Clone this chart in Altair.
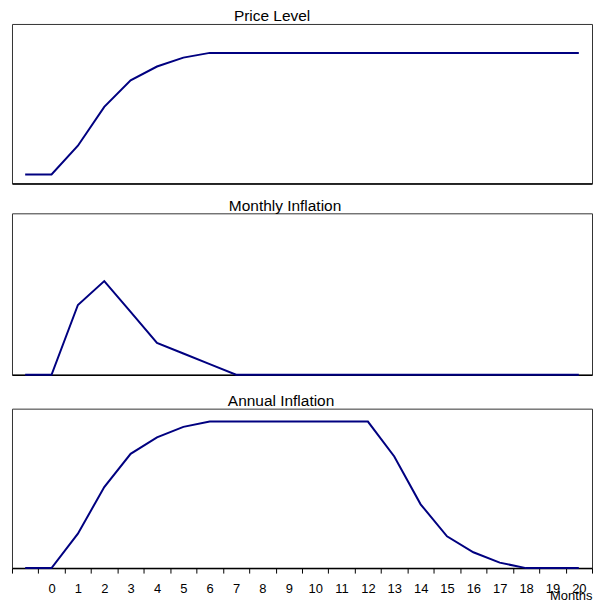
import altair as alt
import pandas as pd

# Month index (-1 is the unlabelled month before the shock)
months = list(range(-1, 21))

# Price level (index)
price_level = [100, 100, 102.36, 105.56, 107.74, 108.88, 109.61,
               110, 110, 110, 110, 110, 110, 110, 110, 110, 110, 110, 110, 110, 110, 110]

# Monthly inflation (%)
monthly_inflation = [0, 0, 2.16, 2.9, 1.95, 0.99, 0.66, 0.33,
                     0, 0, 0, 0, 0, 0, 0, 0, 0, 0, 0, 0, 0, 0]

# Annual inflation (%)
annual_inflation = [0, 0, 2.59, 6.1, 8.6, 9.84, 10.63,
                    11.03, 11.03, 11.03, 11.03, 11.03, 11.03, 11.03,
                    8.4, 4.8, 2.39, 1.19, 0.41, 0, 0, 0]

df = pd.DataFrame({
    "month": months,
    "price": price_level,
    "monthly": monthly_inflation,
    "annual": annual_inflation,
})

W = 582
LINE = "#000080"
FONT = "Liberation Sans"

xscale = alt.Scale(domain=[months[0] - 0.5, months[-1] + 0.5], nice=False, zero=False)
tick_values = sorted(set([m - 0.5 for m in months] + months + [months[-1] + 0.5]))


def title(text, dx):
    return alt.TitleParams(text, font=FONT, fontSize=15.5, fontWeight="normal",
                           color="black", anchor="middle", dx=dx, offset=-1,
                           baseline="top")


plain_axis = dict(title=None, labels=False, grid=False, domainColor="black",
                  domainWidth=1.5)

top = alt.Chart(df).mark_line(color=LINE, strokeWidth=2).encode(
    x=alt.X("month:Q", scale=xscale, axis=alt.Axis(ticks=False, **plain_axis)),
    y=alt.Y("price:Q", scale=alt.Scale(domain=[99.26, 112.38], nice=False, zero=False), axis=None),
).properties(width=W, height=160, title=title("Price Level", -30))

mid = alt.Chart(df).mark_line(color=LINE, strokeWidth=2).encode(
    x=alt.X("month:Q", scale=xscale,
            axis=alt.Axis(ticks=True, tickOpacity=0, tickSize=4, **plain_axis)),
    y=alt.Y("monthly:Q", scale=alt.Scale(domain=[0, 5], nice=False), axis=None),
).properties(width=W, height=162, title=title("Monthly Inflation", -17))

bottom_axis = alt.Axis(
    values=tick_values,
    labelExpr="datum.value >= 0 && datum.value % 1 == 0 ? '' + datum.value : ''",
    tickOpacity={"condition": {"test": "datum.value % 1 != 0", "value": 1}, "value": 0},
    tickSize=5, tickColor="black", tickWidth=1,
    labelFontSize=13, labelColor="black", labelPadding=9,
    labelOverlap=False, labelFlush=False, labelBound=False,
    grid=False, domainColor="black", domainWidth=1.5,
    title="Months", titleFontSize=13, titleFontWeight="normal", titleColor="black",
    titleAlign="right", titleBaseline="alphabetic", titleX=W, titleY=32,
)

bot = alt.Chart(df).mark_line(color=LINE, strokeWidth=2).encode(
    x=alt.X("month:Q", scale=xscale, axis=bottom_axis),
    y=alt.Y("annual:Q", scale=alt.Scale(domain=[0, 12], nice=False), axis=None),
).properties(width=W, height=160, title=title("Annual Inflation", -21))

chart = alt.vconcat(top, mid, bot, spacing=14).properties(
    padding={"left": 3, "top": 0, "right": 0, "bottom": 0}
).configure_view(
    stroke="#333", strokeWidth=1
).configure_axis(
    labelFont=FONT, titleFont=FONT
)

chart.save("out.html", embed_options={"renderer": "svg", "actions": False})
